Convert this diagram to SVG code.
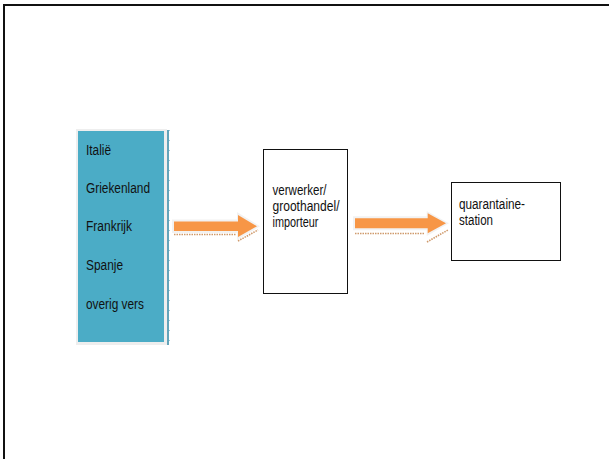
<svg xmlns="http://www.w3.org/2000/svg" width="609" height="459" viewBox="0 0 609 459">
<style>
.t{font-family:"Liberation Sans",Arial,sans-serif;font-size:14px;fill:#111}
.box{fill:#fff;stroke:#111;stroke-width:1}
.arrow{fill:#F79646}
.halo{fill:#f2f2f2}
.refl{fill:none;stroke:#cf9a6c;stroke-width:1.6;stroke-dasharray:1.5 1}
</style>
<rect x="0" y="0" width="609" height="459" fill="#fff"/>
<rect x="4" y="5" width="640" height="480" fill="none" stroke="#111" stroke-width="2"/>
<g id="countries">
<rect x="76" y="129" width="91" height="216" fill="#eeeeee"/>
<rect x="78" y="131" width="86" height="211" fill="#4BACC6"/>
<line x1="168" y1="130" x2="168" y2="345" stroke="#2f86a3" stroke-width="1.5"/>
<line x1="169.5" y1="130" x2="169.5" y2="345" stroke="#9cc9d8" stroke-width="1" stroke-dasharray="1 9"/>
<text class="t" x="86" y="155" textLength="25" lengthAdjust="spacingAndGlyphs">Italië</text>
<text class="t" x="86" y="193" textLength="64" lengthAdjust="spacingAndGlyphs">Griekenland</text>
<text class="t" x="86" y="231" textLength="46" lengthAdjust="spacingAndGlyphs">Frankrijk</text>
<text class="t" x="86" y="270" textLength="37" lengthAdjust="spacingAndGlyphs">Spanje</text>
<text class="t" x="86" y="309" textLength="58" lengthAdjust="spacingAndGlyphs">overig vers</text>
</g>
<g id="verwerker">
<rect class="box" x="263.5" y="149.5" width="84" height="144"/>
<text class="t" x="272.5" y="194.5" textLength="54" lengthAdjust="spacingAndGlyphs">verwerker/</text>
<text class="t" x="272.5" y="210.5" textLength="67" lengthAdjust="spacingAndGlyphs">groothandel/</text>
<text class="t" x="272.5" y="226.5" textLength="46" lengthAdjust="spacingAndGlyphs">importeur</text>
</g>
<g id="quarantaine">
<rect class="box" x="451.5" y="182.5" width="109" height="78"/>
<text class="t" x="459" y="209" textLength="66" lengthAdjust="spacingAndGlyphs">quarantaine-</text>
<text class="t" x="459" y="225" textLength="34" lengthAdjust="spacingAndGlyphs">station</text>
</g>
<g id="connectors">
<polygon class="halo" points="172,219.5 237,219.5 237,212 260,226.3 237,240 237,233 172,233"/>
<polygon class="arrow" points="174,221.5 238,221.5 238,215 257,226.3 238,237 238,231 174,231"/>
<line class="refl" x1="174" y1="234.5" x2="236" y2="234.5"/>
<line class="refl" x1="238" y1="241" x2="258" y2="230"/>
<polygon class="halo" points="353,216.3 426.7,216.3 426.7,211 449,223.3 426.7,236 426.7,230.3 353,230.3"/>
<polygon class="arrow" points="355,218.3 427.7,218.3 427.7,213.3 446,223.3 427.7,233.3 427.7,228.3 355,228.3"/>
<line class="refl" x1="355" y1="233.5" x2="425" y2="233.5"/>
<line class="refl" x1="427" y1="242" x2="448" y2="230"/>
</g>
</svg>
